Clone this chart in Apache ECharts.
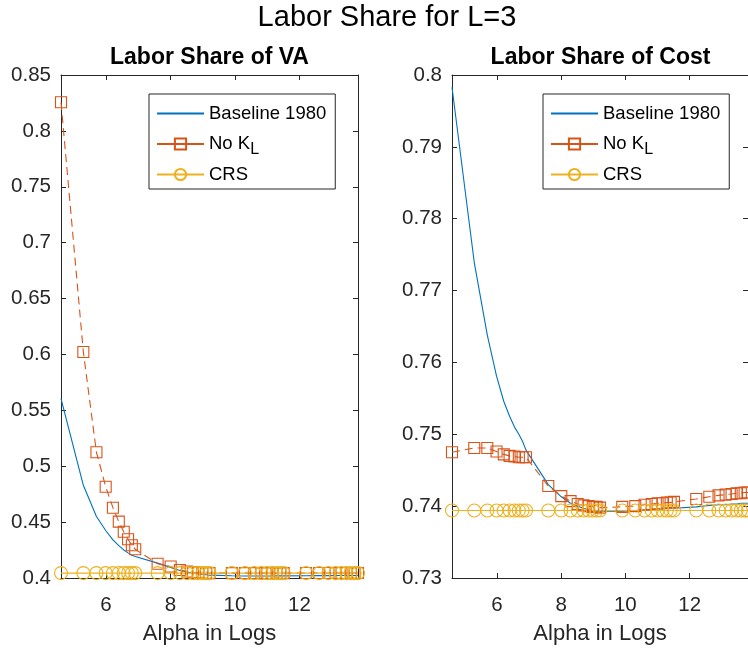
<!DOCTYPE html>
<html>
<head>
<meta charset="utf-8">
<script src="https://cdn.jsdelivr.net/npm/echarts@6/dist/echarts.min.js"></script>
<style>
  html, body { margin: 0; padding: 0; background: #fff; }
  #chart { width: 748px; height: 650px; }
</style>
</head>
<body>
<div id="chart"></div>
<script>
// Alpha grid (natural log of alpha = 100 ... 1e6)
const alphaLog = [
  4.605, 5.298, 5.704, 5.991, 6.215, 6.397, 6.551, 6.685, 6.802, 6.908,
  7.601, 8.006, 8.294, 8.517, 8.700, 8.854, 8.987, 9.105, 9.210,
  9.903, 10.309, 10.597, 10.820, 11.002, 11.156, 11.290, 11.408, 11.513,
  12.206, 12.612, 12.899, 13.122, 13.305, 13.459, 13.592, 13.710, 13.816
];
const xTicks = [6, 8, 10, 12];

// Labor share of value added
const vaBaseline = [
  0.5605, 0.4829, 0.4550, 0.4425, 0.4341, 0.4289, 0.4251, 0.4225, 0.4203, 0.4193,
  0.4133, 0.4095, 0.4068, 0.4053, 0.4044, 0.4038, 0.4033, 0.4029, 0.4026,
  0.4020, 0.4018, 0.4018, 0.4018, 0.4018, 0.4018, 0.4019, 0.4019, 0.4019,
  0.4020, 0.4021, 0.4021, 0.4022, 0.4022, 0.4022, 0.4023, 0.4023, 0.4023
];
const vaNoKL = [
  0.8256, 0.6022, 0.5125, 0.4817, 0.4629, 0.4504, 0.4414, 0.4346, 0.4293, 0.4257,
  0.4127, 0.4103, 0.4072, 0.4058, 0.4051, 0.4048, 0.4046, 0.4045, 0.4044,
  0.4044, 0.4044, 0.4044, 0.4044, 0.4044, 0.4044, 0.4044, 0.4044, 0.4044,
  0.4045, 0.4045, 0.4045, 0.4045, 0.4045, 0.4045, 0.4045, 0.4045, 0.4045
];
const vaCRS = [
  0.4044, 0.4044, 0.4044, 0.4044, 0.4044, 0.4044, 0.4044, 0.4044, 0.4044, 0.4044,
  0.4044, 0.4044, 0.4044, 0.4044, 0.4044, 0.4044, 0.4044, 0.4044, 0.4044,
  0.4044, 0.4044, 0.4044, 0.4044, 0.4044, 0.4044, 0.4044, 0.4044, 0.4044,
  0.4044, 0.4044, 0.4044, 0.4044, 0.4044, 0.4044, 0.4044, 0.4044, 0.4044
];

// Labor share of cost
const costBaseline = [
  0.7983, 0.7739, 0.7638, 0.7581, 0.7546, 0.7525, 0.7510, 0.7500, 0.7490, 0.7478,
  0.7430, 0.7413, 0.7404, 0.7400, 0.7397, 0.7395, 0.7394, 0.7393, 0.7393,
  0.7393, 0.7394, 0.7395, 0.7395, 0.7396, 0.7396, 0.7397, 0.7397, 0.7397,
  0.7399, 0.7401, 0.7402, 0.7402, 0.7403, 0.7403, 0.7404, 0.7404, 0.7404
];
const costNoKL = [
  0.7475, 0.7481, 0.7481, 0.7476, 0.7472, 0.7470, 0.7469, 0.7468, 0.7468, 0.7468,
  0.7428, 0.7414, 0.7407, 0.7403, 0.7401, 0.7400, 0.7399, 0.7399, 0.7398,
  0.7399, 0.7400, 0.7402, 0.7403, 0.7404, 0.7404, 0.7405, 0.7405, 0.7406,
  0.7410, 0.7413, 0.7415, 0.7416, 0.7417, 0.7418, 0.7418, 0.7419, 0.7419
];
const costCRS = [
  0.7394, 0.7394, 0.7394, 0.7394, 0.7394, 0.7394, 0.7394, 0.7394, 0.7394, 0.7394,
  0.7394, 0.7394, 0.7394, 0.7394, 0.7394, 0.7394, 0.7394, 0.7394, 0.7394,
  0.7394, 0.7394, 0.7394, 0.7394, 0.7394, 0.7394, 0.7394, 0.7394, 0.7394,
  0.7394, 0.7394, 0.7394, 0.7394, 0.7394, 0.7394, 0.7394, 0.7394, 0.7394
];

const seriesNames = ['Baseline 1980', 'No K_L', 'CRS'];
const colors = ['#0072BD', '#D95319', '#EDB120'];

const FONT = '"Liberation Sans", Arial, Helvetica, sans-serif';
const AX = '#262626';

const pairs = ys => alphaLog.map((x, i) => [x, ys[i]]);

const xMin = alphaLog[0];
const xMax = alphaLog[alphaLog.length - 1];

function xAxes(gridIndex) {
  const line = { show: true, onZero: false, lineStyle: { color: AX, width: 1 } };
  const tick = { show: true, inside: true, length: 5, customValues: xTicks, lineStyle: { color: AX, width: 1 } };
  return [
    {
      gridIndex, type: 'value', position: 'bottom', min: xMin, max: xMax,
      name: 'Alpha in Logs', nameLocation: 'middle', nameGap: 45,
      nameTextStyle: { fontFamily: FONT, fontSize: 22, color: AX },
      axisLine: line, axisTick: tick,
      axisLabel: { customValues: xTicks, fontFamily: FONT, fontSize: 20.5, color: AX, margin: 17 },
      splitLine: { show: false }
    },
    {
      gridIndex, type: 'value', position: 'top', min: xMin, max: xMax,
      axisLine: line, axisTick: tick, axisLabel: { show: false }, splitLine: { show: false }
    }
  ];
}

function yAxes(gridIndex, min, max, step) {
  const line = { show: true, onZero: false, lineStyle: { color: AX, width: 1 } };
  const tick = { show: true, inside: true, length: 5, lineStyle: { color: AX, width: 1 } };
  return [
    {
      gridIndex, type: 'value', position: 'left', min, max, interval: step,
      axisLine: line, axisTick: tick,
      axisLabel: {
        fontFamily: FONT, fontSize: 20.5, color: AX, margin: 10,
        formatter: v => String(+v.toFixed(2))
      },
      splitLine: { show: false }
    },
    {
      gridIndex, type: 'value', position: 'right', min, max, interval: step,
      axisLine: line, axisTick: tick, axisLabel: { show: false }, splitLine: { show: false }
    }
  ];
}

function panelSeries(gridIdx, base, nokl, crs) {
  const xi = gridIdx * 2, yi = gridIdx * 2;
  return [
    {
      name: seriesNames[0], type: 'line', xAxisIndex: xi, yAxisIndex: yi,
      data: pairs(base), symbol: 'none', clip: false,
      lineStyle: { color: colors[0], width: 1.1 },
      itemStyle: { color: colors[0] }
    },
    {
      name: seriesNames[1], type: 'line', xAxisIndex: xi, yAxisIndex: yi,
      data: pairs(nokl), symbol: 'rect', symbolSize: 11, clip: false,
      lineStyle: { color: colors[1], width: 1.1, type: [8, 5] },
      itemStyle: { color: 'rgba(255,255,255,0)', borderColor: colors[1], borderWidth: 1.1 }
    },
    {
      name: seriesNames[2], type: 'line', xAxisIndex: xi, yAxisIndex: yi,
      data: pairs(crs), symbol: 'circle', symbolSize: 13, clip: false,
      lineStyle: { color: colors[2], width: 1.1 },
      itemStyle: { color: 'rgba(255,255,255,0)', borderColor: colors[2], borderWidth: 1.1 }
    }
  ];
}

function legendAt(left) {
  return {
    left, top: 94, orient: 'vertical', selectedMode: false,
    data: [
      // plain line entry, no marker
      { name: seriesNames[0], itemStyle: { color: 'rgba(0,0,0,0)', borderColor: 'rgba(0,0,0,0)', borderWidth: 0 } },
      { name: seriesNames[1] },
      { name: seriesNames[2] }
    ],
    backgroundColor: '#fff', borderColor: AX, borderWidth: 1, borderRadius: 0,
    padding: [10, 9, 5, 7],
    itemWidth: 47, itemHeight: 14, itemGap: 7,
    lineStyle: { type: 'solid' },
    textStyle: {
      fontFamily: FONT, fontSize: 18.5, color: '#000', lineHeight: 18,
      rich: { sub: { fontFamily: FONT, fontSize: 16, lineHeight: 16, color: '#000', padding: [12, 0, 0, 0] } }
    },
    formatter: name => name === 'No K_L' ? 'No K{sub|L}' : name
  };
}

const chart = echarts.init(document.getElementById('chart'), null, { renderer: 'canvas' });
chart.setOption({
  animation: false,
  backgroundColor: '#fff',
  title: [
    { text: 'Labor Share for L=3', left: 387, top: 3, textAlign: 'center', padding: 0,
      textStyle: { fontFamily: FONT, fontSize: 29, fontWeight: 'normal', color: '#000', lineHeight: 29 } },
    { text: 'Labor Share of VA', left: 209.5, top: 46, textAlign: 'center', padding: 0,
      textStyle: { fontFamily: FONT, fontSize: 23, fontWeight: 'bold', color: '#000', lineHeight: 23 } },
    { text: 'Labor Share of Cost', left: 600.5, top: 46, textAlign: 'center', padding: 0,
      textStyle: { fontFamily: FONT, fontSize: 23, fontWeight: 'bold', color: '#000', lineHeight: 23 } }
  ],
  legend: [legendAt(149), legendAt(543)],
  grid: [
    { left: 61, top: 75, width: 297, height: 503, containLabel: false },
    { left: 452, top: 75, width: 297, height: 503, containLabel: false }
  ],
  xAxis: [...xAxes(0), ...xAxes(1)],
  yAxis: [...yAxes(0, 0.4, 0.85, 0.05), ...yAxes(1, 0.73, 0.8, 0.01)],
  series: [
    ...panelSeries(0, vaBaseline, vaNoKL, vaCRS),
    ...panelSeries(1, costBaseline, costNoKL, costCRS)
  ]
});
</script>
</body>
</html>
